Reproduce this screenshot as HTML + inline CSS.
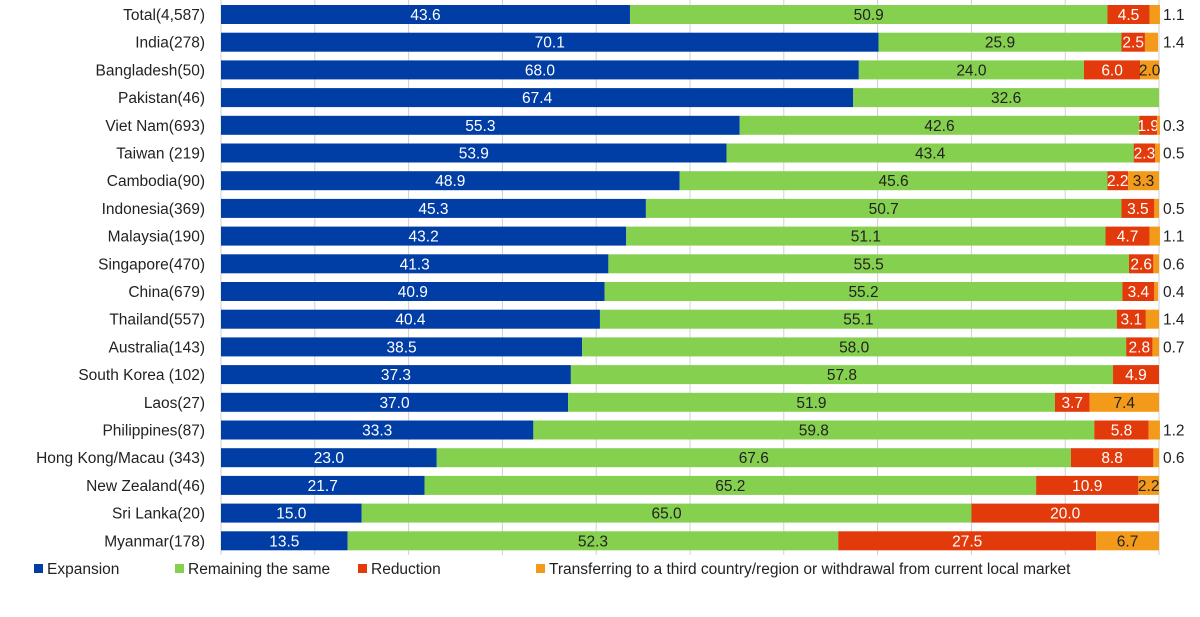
<!DOCTYPE html>
<html><head><meta charset="utf-8"><style>
body{margin:0;background:#fff;width:1200px;height:612px;overflow:hidden;font-family:"Liberation Sans","DejaVu Sans",sans-serif}
svg text{font-family:"Liberation Sans","DejaVu Sans",sans-serif}
</style></head><body>
<svg id="chart" width="1200" height="612" xmlns="http://www.w3.org/2000/svg">
<g id="grid"></g>
<g id="bars"></g>
<g id="labels"></g>
<g id="legend"></g>
</svg>
<script>
const categories=["Total(4,587)","India(278)","Bangladesh(50)","Pakistan(46)","Viet Nam(693)","Taiwan (219)","Cambodia(90)","Indonesia(369)","Malaysia(190)","Singapore(470)","China(679)","Thailand(557)","Australia(143)","South Korea (102)","Laos(27)","Philippines(87)","Hong Kong/Macau (343)","New Zealand(46)","Sri Lanka(20)","Myanmar(178)"];
const expansion=[43.6,70.1,68.0,67.4,55.3,53.9,48.9,45.3,43.2,41.3,40.9,40.4,38.5,37.3,37.0,33.3,23.0,21.7,15.0,13.5];
const same=[50.9,25.9,24.0,32.6,42.6,43.4,45.6,50.7,51.1,55.5,55.2,55.1,58.0,57.8,51.9,59.8,67.6,65.2,65.0,52.3];
const reduction=[4.5,2.5,6.0,0,1.9,2.3,2.2,3.5,4.7,2.6,3.4,3.1,2.8,4.9,3.7,5.8,8.8,10.9,20.0,27.5];
const transfer=[1.1,1.4,2.0,0,0.3,0.5,3.3,0.5,1.1,0.6,0.4,1.4,0.7,0,7.4,1.2,0.6,2.2,0,6.7];
const seriesNames=["Expansion","Remaining the same","Reduction","Transferring to a third country/region or withdrawal from current local market"];
const colors=["#003da5","#86d04f","#e23a0a","#f39a1b"];
const textColors=["#fff","#222","#fff","#222"];
const X0=221,X1=1159,Y0=5,PITCH=27.7,BH=19;
const xs=v=>X0+(X1-X0)*v/100;
const ys=i=>Y0+i*PITCH;
const NS="http://www.w3.org/2000/svg";
function mk(tag,attrs,parent){const e=document.createElementNS(NS,tag);for(const k in attrs)e.setAttribute(k,attrs[k]);parent.appendChild(e);return e;}
const grid=document.getElementById('grid'),bars=document.getElementById('bars'),labels=document.getElementById('labels'),legend=document.getElementById('legend');
for(let t=0;t<=100;t+=10){const l=mk('line',{x1:xs(t),x2:xs(t),y1:0,y2:ys(categories.length)-4,stroke:'#d0d0d0','stroke-width':1},grid);

}
const series=[expansion,same,reduction,transfer];
categories.forEach((c,i)=>{
 const y=ys(i);
 const t=mk('text',{x:205,y:y+BH/2+5.5,'text-anchor':'end','font-size':15.5,fill:'#222'},labels);t.textContent=c;
 
 
 let acc=0;
 series.forEach((s,k)=>{
  const v=s[i];if(!v){return;}
  const r=mk('rect',{x:xs(acc),y:y,width:xs(acc+v)-xs(acc),height:BH,fill:colors[k]},bars);
  
  
  const mid=(xs(acc)+xs(acc+v))/2;
  let tx=mid,anchor='middle',fill=textColors[k];
  if(k===3&&v<1.7){tx=X1+4;anchor='start';fill='#222';}
  const lt=mk('text',{x:tx,y:y+BH/2+5.5,'text-anchor':anchor,'font-size':15.5,fill:fill},bars);
  lt.textContent=v.toFixed(1);
  
  
  acc+=v;
 });
});
const lx=[34,175,358,536];
seriesNames.forEach((n,k)=>{
 const r=mk('rect',{x:lx[k],y:564,width:9,height:9,fill:colors[k]},legend);
 
 
 const t=mk('text',{x:lx[k]+13,y:574,'font-size':15.5,fill:'#222'},legend);t.textContent=n;
 
 
});
</script>
</body></html>
